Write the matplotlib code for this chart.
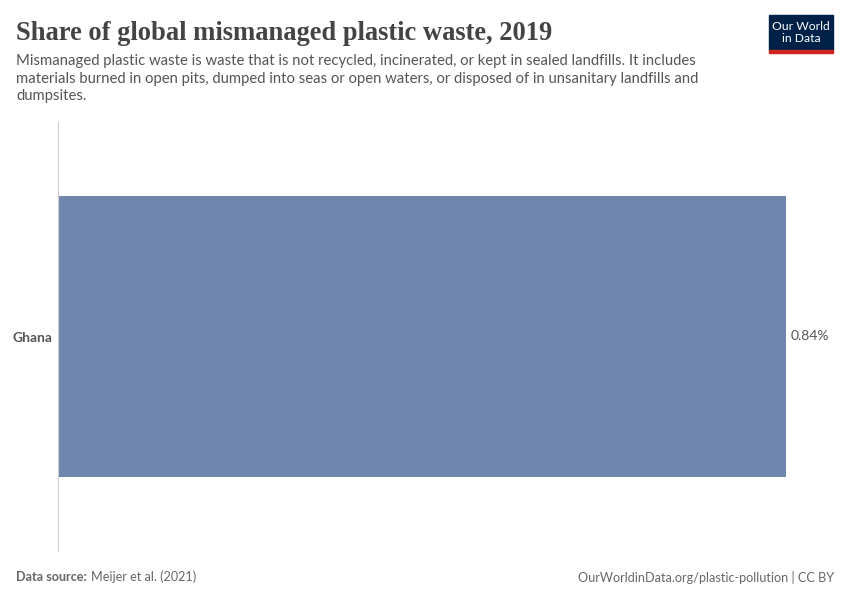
import matplotlib.pyplot as plt
from matplotlib.patches import Rectangle

# data
countries = ['Ghana']
shares = [0.84]
value_labels = ['0.84%']

title = 'Share of global mismanaged plastic waste, 2019'
subtitle = ('Mismanaged plastic waste is waste that is not recycled, incinerated, or kept in sealed landfills. It includes\n'
            'materials burned in open pits, dumped into seas or open waters, or disposed of in unsanitary landfills and\n'
            'dumpsites.')

W, H = 850, 600
fig = plt.figure(figsize=(W / 100, H / 100), dpi=100)

# axes: x 58..786 px, y 122..551 px
ax = fig.add_axes([58 / W, 1 - 551 / H, (786 - 58) / W, (551 - 122) / H])
ax.barh(countries, shares, height=0.653, color='#6f87ae')
ax.set_xlim(0, max(shares))
ax.set_ylim(-0.5, 0.5)
for spine in ['top', 'right', 'bottom']:
    ax.spines[spine].set_visible(False)
ax.spines['left'].set_color('#cccccc')
ax.set_xticks([])
ax.tick_params(axis='y', length=0, pad=4)
for lab in ax.get_yticklabels():
    lab.set_fontfamily('Lato')
    lab.set_fontweight('bold')
    lab.set_fontsize(10)
    lab.set_color('#555555')
for i, v in enumerate(shares):
    ax.annotate(value_labels[i], (v, i), xytext=(3.5, 0), textcoords='offset points',
                va='center', ha='left', fontsize=10, color='#555555',
                family='Lato', annotation_clip=False)

# header
fig.text(16 / W, 1 - 33 / H, title, fontsize=19.1, family='Liberation Serif',
         fontweight='bold', color='#444444', va='center', ha='left')
fig.text(16 / W, 1 - 54 / H, subtitle, fontsize=10.7, family='Lato',
         color='#555555', va='top', ha='left', linespacing=1.32)

# logo
fig.patches.append(Rectangle((769 / W, 1 - 50 / H), 64 / W, 35 / H,
                             transform=fig.transFigure, color='#002147'))
fig.patches.append(Rectangle((769 / W, 1 - 52.5 / H), 64 / W, 2.5 / H,
                             transform=fig.transFigure, color='#ce261e'))
fig.text(801 / W, 1 - 32.5 / H, 'Our World\nin Data', fontsize=8.7, family='Lato',
         color='white', ha='center', va='center', linespacing=1.05)

# footer
fig.text(16 / W, 1 - 577 / H, 'Data source:', fontsize=9.1, family='Lato',
         fontweight='bold', color='#666666', va='center', ha='left')
fig.text(91 / W, 1 - 577 / H, 'Meijer et al. (2021)', fontsize=9.1, family='Lato',
         color='#666666', va='center', ha='left')
fig.text(834 / W, 1 - 577 / H, 'OurWorldinData.org/plastic-pollution | CC BY',
         fontsize=9.1, family='Lato', color='#666666', va='center', ha='right')

fig.savefig('out.png', dpi=100)
